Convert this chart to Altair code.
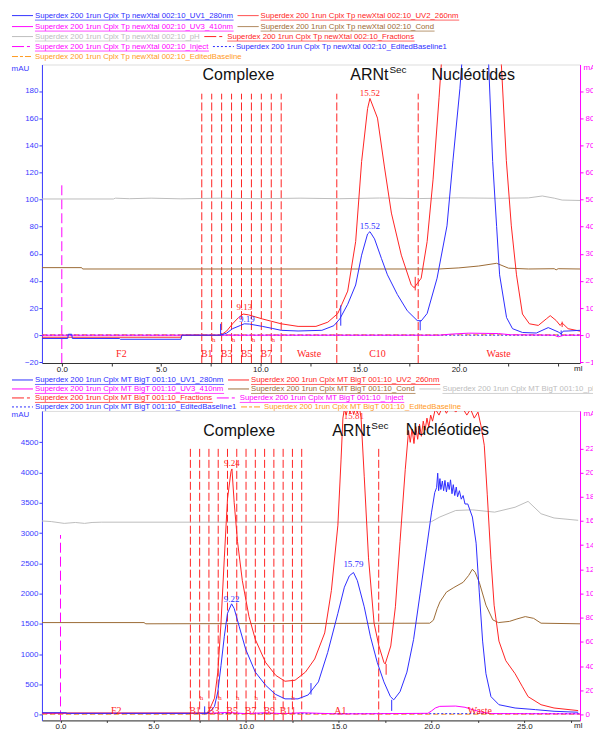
import altair as alt
import pandas as pd

BLUE = "#2d2dff"
RED = "#ff2424"
MAG = "#ff00ff"
BROWN = "#9c6b36"
GREY = "#bdbdbd"
ORANGE = "#ff9a1e"
AXBLUE = "#3c3cff"
FRAME = "#5a5a5a"
SANS = "Liberation Sans"
SERIF = "Liberation Serif"

# ===================== Run 1 : Cplx Tp newXtal 002:10 =====================
T_PREFIX = "Superdex 200 1run Cplx Tp newXtal 002:10_"
T_UV1 = [(-1.0, -2.4), (0.3, -2.4), (0.33, 0.7), (0.5, 0.7), (0.53, -2.4), (2.9, -2.4), (2.95, -3.0),
         (6.0, -3.0), (6.05, 0.0), (8.0, 0.0), (8.3, 1.5), (8.6, 4.8), (9.0, 7.2), (9.19, 8.4), (9.45, 8.2),
         (10.1, 6.5), (10.6, 5.0), (11.05, 3.6), (11.9, 3.1), (13.1, 3.6), (13.7, 7.0), (14.0, 12.0),
         (14.4, 22.8), (14.8, 37.0), (15.1, 59.0), (15.4, 74.6), (15.52, 76.3), (15.75, 71.0), (16.1, 56.5),
         (16.4, 44.5), (16.9, 30.0), (17.4, 18.0), (17.9, 10.8), (18.1, 10.5), (18.4, 16.0), (18.9, 42.0),
         (19.4, 80.6), (19.7, 128.7), (20.05, 181.6), (20.4, 250.0), (20.8, 300.0), (21.2, 270.0),
         (21.5, 199.0), (21.7, 128.0), (21.9, 80.0), (22.05, 44.5), (22.4, 13.0), (22.7, 4.8), (23.2, 2.0),
         (23.9, 1.6), (24.5, 5.6), (25.0, 2.4), (25.15, 1.0), (25.25, 3.0), (25.5, 3.1), (26.1, 3.6)]
T_UV2 = [(-1.0, -1.5), (6.0, -1.5), (6.05, 0.0), (8.0, 0.0), (8.3, 3.0), (8.6, 8.4), (8.9, 13.0),
         (9.13, 15.6), (9.4, 15.0), (10.1, 12.0), (11.05, 8.4), (11.9, 6.5), (12.8, 6.5), (13.4, 9.6),
         (13.9, 16.0), (14.4, 32.5), (14.8, 69.0), (15.1, 128.0), (15.4, 167.0), (15.52, 174.5),
         (15.9, 160.0), (16.25, 124.0), (16.6, 90.0), (17.1, 59.0), (17.6, 37.0), (17.75, 35.0),
         (18.1, 42.0), (18.4, 69.0), (18.7, 115.0), (19.0, 175.0), (19.3, 240.0), (20.5, 420.0),
         (21.5, 400.0), (22.0, 250.0), (22.14, 199.0), (22.39, 128.7), (22.64, 80.6), (22.9, 44.5),
         (23.2, 15.6), (23.55, 8.4), (24.0, 7.2), (24.4, 12.0), (24.6, 14.4), (24.9, 10.8), (25.1, 7.2),
         (25.2, 9.0), (25.5, 4.8), (26.1, 3.0)]
T_UV3 = [(-1.0, 0.0), (19.0, 0.0), (19.6, 0.8), (20.5, 1.5), (22.0, 1.2), (22.6, 0.3), (24.8, 0.0),
         (25.0, -1.2), (25.3, 0.0), (26.1, 0.0)]
T_COND = [(-1.0, 49.8), (1.0, 49.8), (1.05, 48.8), (19.0, 48.8), (20.0, 49.6), (21.0, 51.0), (21.9, 53.0),
          (22.5, 49.4), (23.5, 48.8), (24.8, 49.0), (24.9, 48.2), (25.0, 49.0), (26.1, 48.8)]
T_PH = [(-1.0, 100.4), (2.6, 100.4), (2.7, 101.0), (3.4, 100.6), (4.5, 101.0), (6.0, 100.5), (8.0, 101.0),
        (10.0, 100.6), (12.0, 101.0), (14.0, 100.6), (16.0, 101.1), (18.0, 100.7), (20.0, 101.2),
        (22.0, 100.9), (23.5, 101.2), (24.2, 102.6), (24.8, 101.0), (25.2, 99.6), (26.1, 99.3)]
T_BASE1 = [(-1.0, 0.0), (26.1, 0.0)]
T_BASE = [(-1.0, 0.3), (26.1, 0.3)]
T_FRACTIONS = [7.05, 7.55, 8.05, 8.55, 9.05, 9.55, 10.05, 10.55, 11.05, 13.85, 17.95]
T_FRACTION_TOP = 178.0
T_FRAC_LABELS = ["F2", "B1", "B3", "B5", "B7", "Waste", "C10", "Waste"]
T_FRAC_LABEL_X = [3.0, 7.3, 8.3, 9.3, 10.3, 12.45, 15.9, 22.0]
T_FRAC_LABEL_Y = -13.5
T_EVEN_X = [7.65, 8.65, 9.65, 10.65]
T_EVEN_Y = -3.4
T_PEAK_TEXT = ["9.13", "9.19", "15.52", "15.52"]
T_PEAK_X = [9.2, 9.32, 15.52, 15.52]
T_PEAK_Y = [20.6, 12.0, 178.5, 80.6]
T_PEAK_COLOR = [RED, BLUE, RED, BLUE]
T_MARK_X = [8.0, 14.05, 18.05, 25.15, 17.8, 25.2]
T_MARK_Y1 = [0.0, 7.0, 3.6, 0.0, 33.0, 6.0]
T_MARK_Y2 = [8.4, 22.0, 11.0, 3.5, 43.0, 10.0]
T_MARK_COLOR = [BLUE, BLUE, BLUE, BLUE, RED, RED]
T_INJECT_TOP = 112.0
T_ANN = {"Complexe": (8.9, 191.8), "ARNt": (16.45, 191.8), "Nucléotides": (20.72, 191.5)}

# ===================== Run 2 : Cplx MT BigT 001:10 =====================
B_PREFIX = "Superdex 200 1run Cplx MT BigT 001:10_"
B_UV1 = [(-1.0, 30), (0.3, 30), (0.35, 20), (7.9, 20), (8.1, 60), (8.3, 135), (8.48, 378), (8.65, 810),
         (8.83, 1295), (9.0, 1673), (9.22, 1830), (9.36, 1754), (9.63, 1457), (9.98, 1079), (10.5, 701),
         (11.05, 486), (11.58, 335), (12.1, 259), (12.8, 259), (13.35, 324), (13.9, 540), (14.4, 1025),
         (14.95, 1673), (15.3, 2105), (15.57, 2294), (15.79, 2348), (16.0, 2213), (16.37, 1781),
         (16.7, 1295), (17.07, 863), (17.43, 540), (17.78, 297), (17.96, 243), (18.3, 378), (18.67, 701),
         (19.03, 1241), (19.38, 1997), (19.73, 2752), (20.0, 3346), (20.17, 3670), (20.27, 3750),
         (20.33, 3990), (20.38, 3700), (20.45, 3900), (20.5, 3720), (20.58, 3860), (20.65, 3700),
         (20.72, 3870), (20.8, 3680), (20.88, 3840), (20.95, 3720), (21.02, 3880), (21.1, 3650),
         (21.17, 3800), (21.25, 3620), (21.33, 3760), (21.4, 3600), (21.5, 3700), (21.6, 3560),
         (21.7, 3620), (21.8, 3480), (21.95, 3481), (22.2, 3265), (22.4, 2833), (22.57, 2024),
         (22.75, 1214), (22.93, 675), (23.2, 296), (23.63, 162), (24.5, 108), (25.6, 81), (26.6, 54),
         (27.9, 38)]
B_UV2 = [(-1.0, 25), (7.9, 25), (8.03, 81), (8.3, 270), (8.48, 701), (8.65, 1511), (8.83, 2590),
         (9.0, 3562), (9.19, 4020), (9.24, 4060), (9.36, 3508), (9.54, 2860), (9.8, 2213), (10.16, 1619),
         (10.5, 1241), (11.05, 863), (11.6, 648), (12.1, 550), (12.64, 567), (13.2, 701), (13.7, 918),
         (14.24, 1349), (14.6, 2051), (14.95, 3130), (15.12, 4209), (15.22, 4900), (15.3, 5050),
         (15.4, 4950), (15.5, 5100), (15.6, 4980), (15.7, 5100), (15.8, 4960), (15.9, 5080), (16.0, 4980),
         (16.1, 5100), (16.2, 4900), (16.37, 3940), (16.6, 2590), (16.9, 1511), (17.16, 1133),
         (17.43, 863), (17.5, 836), (17.8, 1133), (18.05, 1781), (18.3, 2860), (18.58, 4047),
         (18.76, 4695), (18.85, 4500), (18.95, 4720), (19.05, 4480), (19.15, 4760), (19.25, 4550),
         (19.35, 4800), (19.45, 4600), (19.55, 4850), (19.65, 4700), (19.75, 4900), (19.85, 4750),
         (19.95, 4950), (20.05, 4850), (20.2, 5050), (20.4, 4950), (20.6, 5100), (20.8, 4980),
         (21.0, 5100), (21.3, 5000), (21.6, 5100), (21.9, 4950), (22.1, 5050), (22.3, 4900), (22.5, 5000),
         (22.66, 4776), (22.84, 4452), (23.0, 3643), (23.2, 2563), (23.37, 1808), (23.63, 1214),
         (24.0, 890), (24.5, 675), (24.9, 458), (25.2, 296), (25.9, 162), (26.6, 108), (27.9, 65)]
B_UV3 = [(-1.0, 20), (8.0, 20), (9.0, 35), (10.0, 15), (11.0, 30), (12.0, 15), (13.0, 30), (15.0, 10),
         (19.8, 20), (20.0, 60), (20.2, 108), (20.44, 135), (21.3, 140), (21.8, 120), (22.2, 81),
         (22.7, 40), (23.2, 16), (28.0, 10)]
B_COND = [(-1.0, 1520), (4.5, 1520), (4.6, 1500), (19.9, 1510), (20.1, 1560), (20.3, 1750), (20.45, 1862),
          (20.8, 2024), (21.2, 2100), (21.7, 2186), (22.0, 2300), (22.2, 2401), (22.35, 2350),
          (22.57, 2186), (22.93, 1808), (23.3, 1565), (23.6, 1520), (24.2, 1540), (24.6, 1580),
          (25.05, 1619), (25.5, 1590), (25.9, 1510), (28.0, 1500)]
B_PH = [(-1.0, 3200), (-0.5, 3190), (0.2, 3160), (0.8, 3175), (1.3, 3160), (1.7, 3175), (2.2, 3180),
        (19.8, 3180), (20.0, 3190), (20.44, 3265), (21.3, 3373), (22.2, 3384), (23.4, 3346), (24.5, 3427),
        (25.2, 3524), (25.9, 3319), (26.6, 3249), (27.9, 3211)]
B_BASE1 = [(-1.0, 15), (28.0, 15)]
B_BASE = [(-1.0, 5), (28.0, 5)]
B_FRACTIONS = [7.0, 7.5, 8.0, 8.5, 9.0, 9.5, 10.0, 10.5, 11.0, 11.5, 12.0, 12.5, 13.0, 17.15]
B_FRACTION_TOP = 4425.0
B_FRAC_LABELS = ["F2", "B1", "B3", "B5", "B7", "B9", "B11", "A1", "Waste"]
B_FRAC_LABEL_X = [3.0, 7.25, 8.25, 9.25, 10.25, 11.25, 12.25, 15.08, 22.6]
B_FRAC_LABEL_Y = 65.0
B_EVEN_X = [7.6, 8.6, 9.55, 10.55, 11.55, 12.55]
B_EVEN_Y = 275.0
B_PEAK_TEXT = ["9.24", "9.22", "15.79", "15.81"]
B_PEAK_X = [9.24, 9.22, 15.79, 15.81]
B_PEAK_Y = [4156, 1915, 2482, 4940]
B_PEAK_COLOR = [RED, BLUE, BLUE, RED]
B_MARK_X = [7.77, 13.5, 17.85, 17.55]
B_MARK_Y1 = [0, 330, 60, 658]
B_MARK_Y2 = [135, 520, 243, 836]
B_MARK_COLOR = [BLUE, BLUE, BLUE, RED]
B_INJECT_TOP = 2968.0
B_ANN = {"Complexe": (9.63, 4684), "ARNt": (16.7, 4684), "Nucléotides": (20.85, 4700)}

# ===================== layout helpers =====================
PLOT_W = 539
RIGHT_ANCHOR = 620.0          # invisible far-right anchor (px from plot left)
SVG_W = 584.0                 # page stays inside the window; right-axis labels get cropped like the reference
PAD_LEFT = 2
PAD_RIGHT = SVG_W - PAD_LEFT - 30.5 - (RIGHT_ANCHOR + 0.5)
LEG1_H, TOP_H, LEG2_H, BOT_H = 55, 299, 48, 310
PAD_TOP = 0
ARIAL = {' ': .278, '_': .556, ':': .278, '.': .278, 'S': .667, 'C': .722, 'T': .611, 'X': .667,
         'U': .722, 'V': .667, 'M': .833, 'B': .667, 'I': .278, 'E': .667, 'F': .611, 'H': .722,
         'a': .556, 'b': .556, 'c': .5, 'd': .556, 'e': .556, 'f': .278, 'g': .556, 'h': .556,
         'i': .222, 'j': .222, 'k': .5, 'l': .222, 'm': .833, 'n': .556, 'o': .556, 'p': .556,
         'r': .333, 's': .5, 't': .278, 'u': .556, 'v': .5, 'w': .722, 'x': .5, 'y': .5}
LEG_FS = 7.8
DASHES = {"solid": [1, 0], "frac": [12, 3, 3, 3], "dot": [2, 2], "edb": [6, 2, 3, 2]}


def text_w(s):
    return sum(ARIAL.get(c, .556) for c in s) * LEG_FS


def legend(prefix, rows, rows_y, height, anchor=False):
    samples, texts, unders = [], [], []
    for r, items in enumerate(rows):
        x = -30.0
        y = rows_y[r]
        for suffix, color, style, ul in items:
            label = prefix + suffix
            samples.append(dict(x=x, x2=x + 21, y=y, color=color, style=style))
            tx = x + 23
            w = text_w(label)
            texts.append(dict(x=tx, y=y, text=label, color=color))
            if ul:
                unders.append(dict(x=tx, x2=tx + w, y=y + 4.5, color=color))
            x = tx + w + 4
    dash = alt.StrokeDash("style:N", scale=alt.Scale(domain=list(DASHES), range=list(DASHES.values())),
                          legend=None)
    l1 = alt.Chart(pd.DataFrame(samples)).mark_rule(strokeWidth=1).encode(
        x=alt.X("x:Q", scale=None, axis=None), x2="x2:Q", y=alt.Y("y:Q", scale=None, axis=None),
        color=alt.Color("color:N", scale=None), strokeDash=dash)
    l2 = alt.Chart(pd.DataFrame(unders)).mark_rule(strokeWidth=0.7).encode(
        x=alt.X("x:Q", scale=None, axis=None), x2="x2:Q", y=alt.Y("y:Q", scale=None, axis=None),
        color=alt.Color("color:N", scale=None))
    l3 = alt.Chart(pd.DataFrame(texts)).mark_text(align="left", baseline="middle", font=SANS,
                                                   fontSize=LEG_FS).encode(
        x=alt.X("x:Q", scale=None, axis=None), y=alt.Y("y:Q", scale=None, axis=None),
        text="text:N", color=alt.Color("color:N", scale=None))
    parts = [l1, l2, l3]
    if anchor:
        parts.append(alt.Chart(pd.DataFrame({"x": [RIGHT_ANCHOR - 1], "x2": [RIGHT_ANCHOR], "y": [10.0]}))
                     .mark_rule(strokeWidth=1, opacity=0).encode(
            x=alt.X("x:Q", scale=None, axis=None), x2="x2:Q", y=alt.Y("y:Q", scale=None, axis=None)))
    return alt.layer(*parts).properties(width=PLOT_W, height=height,
                                        view=alt.ViewBackground(stroke="transparent"))


def pts(pairs):
    return pd.DataFrame({"x": [p[0] for p in pairs], "y": [p[1] for p in pairs],
                         "i": list(range(len(pairs)))})


def panel(P):
    xs = alt.Scale(domain=P["xdom"], nice=False, zero=False)
    ys = alt.Scale(domain=P["ydom"], nice=False, zero=False)
    xax = alt.Axis(values=P["xticks"], labelExpr=P["xlabexpr"], title="ml", titleAngle=0,
                   titleAlign="right", titleBaseline="top", titleX=PLOT_W + 2, titleY=P["xtick"] - 1,
                   titleFont=SANS, titleFontSize=8, titleFontWeight="normal", titleColor="#222",
                   labelFont=SANS, labelFontSize=8, labelColor="#222", labelPadding=0,
                   tickSize=P["xtick"], tickColor="#333", domainColor="#333", grid=False,
                   labelFlush=False, labelOverlap=False)
    yax = alt.Axis(values=P["yticks"], format="d", title="mAU", titleAngle=0, titleAlign="center",
                   titleBaseline="middle", titleX=-22, titleY=4, titleFont=SANS, titleFontSize=8,
                   titleFontWeight="normal", titleColor=AXBLUE, labelFont=SANS, labelFontSize=8,
                   labelColor=AXBLUE, labelPadding=1, tickSize=3, tickColor=AXBLUE, domainColor=AXBLUE,
                   grid=False, labelOverlap=False, labelFlush=False)
    X = alt.X("x:Q", scale=xs, axis=xax)
    Y = alt.Y("y:Q", scale=ys, axis=yax)
    y0 = P["ydom"][0]
    layers = []
    inj = pd.DataFrame({"x": [0.0], "y": [y0], "y2": [P["inject_top"]]})
    layers.append(alt.Chart(inj).mark_rule(color=MAG, strokeDash=[10, 4], strokeWidth=1).encode(
        x=X, y=Y, y2="y2:Q"))
    fr = pd.DataFrame({"x": P["fractions"], "y": [y0] * len(P["fractions"]),
                       "y2": [P["frac_top"]] * len(P["fractions"])})
    layers.append(alt.Chart(fr).mark_rule(color=RED, strokeDash=[8, 3], strokeWidth=1).encode(
        x=X, y=Y, y2="y2:Q"))
    for data, color, dash in P["series"]:
        mk = dict(color=color, strokeWidth=1, clip=True)
        if dash:
            mk["strokeDash"] = dash
        layers.append(alt.Chart(pts(data)).mark_line(**mk).encode(x=X, y=Y, order="i:Q"))
    mkr = pd.DataFrame({"x": P["mark_x"], "y": P["mark_y1"], "y2": P["mark_y2"], "c": P["mark_c"]})
    layers.append(alt.Chart(mkr).mark_rule(strokeWidth=1).encode(
        x=X, y=Y, y2="y2:Q", color=alt.Color("c:N", scale=None)))
    fl = pd.DataFrame({"x": P["flab_x"], "y": [P["flab_y"]] * len(P["flab_x"]), "t": P["flab"]})
    layers.append(alt.Chart(fl).mark_text(color=RED, font=SERIF, fontSize=10, baseline="middle").encode(
        x=X, y=Y, text="t:N"))
    ev = pd.DataFrame({"x": P["even_x"], "y": [P["even_y"]] * len(P["even_x"]), "t": ["h"] * len(P["even_x"])})
    layers.append(alt.Chart(ev).mark_text(color=RED, font=SERIF, fontSize=7, baseline="middle").encode(
        x=X, y=Y, text="t:N"))
    pk = pd.DataFrame({"x": P["peak_x"], "y": P["peak_y"], "t": P["peak_t"], "c": P["peak_c"]})
    layers.append(alt.Chart(pk).mark_text(font=SERIF, fontSize=9, baseline="middle").encode(
        x=X, y=Y, text="t:N", color=alt.Color("c:N", scale=None)))
    ann = P["ann"]
    ac = pd.DataFrame({"x": [ann["Complexe"][0], ann["Nucléotides"][0]],
                       "y": [ann["Complexe"][1], ann["Nucléotides"][1]],
                       "t": ["Complexe", "Nucléotides"]})
    layers.append(alt.Chart(ac).mark_text(font=SANS, fontSize=16, color="#111", baseline="middle").encode(
        x=X, y=Y, text="t:N"))
    ar = pd.DataFrame({"x": [ann["ARNt"][0]], "y": [ann["ARNt"][1]], "t": ["ARNt"]})
    layers.append(alt.Chart(ar).mark_text(font=SANS, fontSize=16, color="#111", baseline="middle",
                                          align="right").encode(x=X, y=Y, text="t:N"))
    sc = pd.DataFrame({"x": [ann["ARNt"][0]], "y": [ann["ARNt"][1]], "t": ["Sec"]})
    layers.append(alt.Chart(sc).mark_text(font=SANS, fontSize=10, color="#111", baseline="middle",
                                          align="left", dx=1, dy=-5).encode(x=X, y=Y, text="t:N"))
    main = alt.layer(*layers)
    rax = alt.Axis(orient="right", values=P["rticks"], format="d", title="mAU", titleAngle=0,
                   titleAlign="left", titleBaseline="middle", titleX=3, titleY=3, titleFont=SANS,
                   titleFontSize=8, titleFontWeight="normal", titleColor=MAG, labelFont=SANS,
                   labelFontSize=8, labelColor=MAG, labelPadding=2, tickSize=3, tickColor=MAG,
                   domainColor=MAG, grid=False, labelOverlap=False, labelFlush=False)
    right = alt.Chart(pd.DataFrame({"r": P["rdom"]})).mark_point(opacity=0).encode(
        y=alt.Y("r:Q", scale=alt.Scale(domain=P["rdom"], nice=False, zero=False), axis=rax))
    return alt.layer(main, right).resolve_scale(y="independent").properties(width=PLOT_W, height=P["h"])


TOP = dict(
    xdom=[-1.0, 26.1], ydom=[-20.5, 199.5], rdom=[-10.25, 99.75], h=TOP_H, xtick=3,
    xticks=[0, 2.5, 5, 7.5, 10, 12.5, 15, 17.5, 20, 22.5, 25],
    xlabexpr="(datum.value % 5 == 0 && datum.value < 24) ? format(datum.value, '.1f') : ''",
    yticks=list(range(-20, 181, 20)), rticks=list(range(-10, 91, 10)),
    series=[(T_PH, GREY, None), (T_COND, BROWN, None), (T_BASE, ORANGE, [5, 3]), (T_BASE1, BLUE, [2, 2]),
            (T_UV3, MAG, None), (T_UV2, RED, None), (T_UV1, BLUE, None)],
    fractions=T_FRACTIONS, frac_top=T_FRACTION_TOP, inject_top=T_INJECT_TOP,
    mark_x=T_MARK_X, mark_y1=T_MARK_Y1, mark_y2=T_MARK_Y2, mark_c=T_MARK_COLOR,
    flab=T_FRAC_LABELS, flab_x=T_FRAC_LABEL_X, flab_y=T_FRAC_LABEL_Y, even_x=T_EVEN_X, even_y=T_EVEN_Y,
    peak_t=T_PEAK_TEXT, peak_x=T_PEAK_X, peak_y=T_PEAK_Y, peak_c=T_PEAK_COLOR, ann=T_ANN)

BOT = dict(
    xdom=[-1.0, 28.0], ydom=[-97, 5019], rdom=[-48.5, 2509.5], h=BOT_H, xtick=2,
    xticks=[0, 2.5, 5, 7.5, 10, 12.5, 15, 17.5, 20, 22.5, 25, 27.5],
    xlabexpr="(datum.value % 5 == 0) ? format(datum.value, '.1f') : ''",
    yticks=list(range(0, 4501, 500)), rticks=list(range(0, 2201, 200)),
    series=[(B_PH, GREY, None), (B_COND, BROWN, None), (B_BASE, ORANGE, [5, 3]), (B_BASE1, BLUE, [2, 2]),
            (B_UV3, MAG, None), (B_UV2, RED, None), (B_UV1, BLUE, None)],
    fractions=B_FRACTIONS, frac_top=B_FRACTION_TOP, inject_top=B_INJECT_TOP,
    mark_x=B_MARK_X, mark_y1=B_MARK_Y1, mark_y2=B_MARK_Y2, mark_c=B_MARK_COLOR,
    flab=B_FRAC_LABELS, flab_x=B_FRAC_LABEL_X, flab_y=B_FRAC_LABEL_Y, even_x=B_EVEN_X, even_y=B_EVEN_Y,
    peak_t=B_PEAK_TEXT, peak_x=B_PEAK_X, peak_y=B_PEAK_Y, peak_c=B_PEAK_COLOR, ann=B_ANN)

T_LEGEND = [
    [("UV1_280nm", BLUE, "solid", True), ("UV2_260nm", RED, "solid", True)],
    [("UV3_410nm", MAG, "solid", True), ("Cond", BROWN, "solid", True)],
    [("pH", GREY, "solid", True), ("Fractions", RED, "frac", True)],
    [("Inject", MAG, "frac", True), ("EditedBaseline1", BLUE, "dot", False)],
    [("EditedBaseline", ORANGE, "edb", False)],
]
B_LEGEND = [
    [("UV1_280nm", BLUE, "solid", True), ("UV2_260nm", RED, "solid", True)],
    [("UV3_410nm", MAG, "solid", True), ("Cond", BROWN, "solid", True), ("pH", GREY, "solid", True)],
    [("Fractions", RED, "frac", True), ("Inject", MAG, "frac", True)],
    [("EditedBaseline1", BLUE, "dot", False), ("EditedBaseline", ORANGE, "edb", False)],
]

chart = alt.vconcat(
    legend(T_PREFIX, T_LEGEND, [6, 17, 27, 37, 47], LEG1_H, anchor=True),
    panel(TOP),
    legend(B_PREFIX, B_LEGEND, [17, 26, 35, 44], LEG2_H),
    panel(BOT),
    spacing=0,
    bounds="flush",
).properties(padding={"left": PAD_LEFT, "top": PAD_TOP, "right": PAD_RIGHT, "bottom": 0}).configure_view(
    stroke=FRAME, strokeWidth=1).configure(font=SANS)

chart.save("out.html", embed_options={"renderer": "svg", "actions": False})
